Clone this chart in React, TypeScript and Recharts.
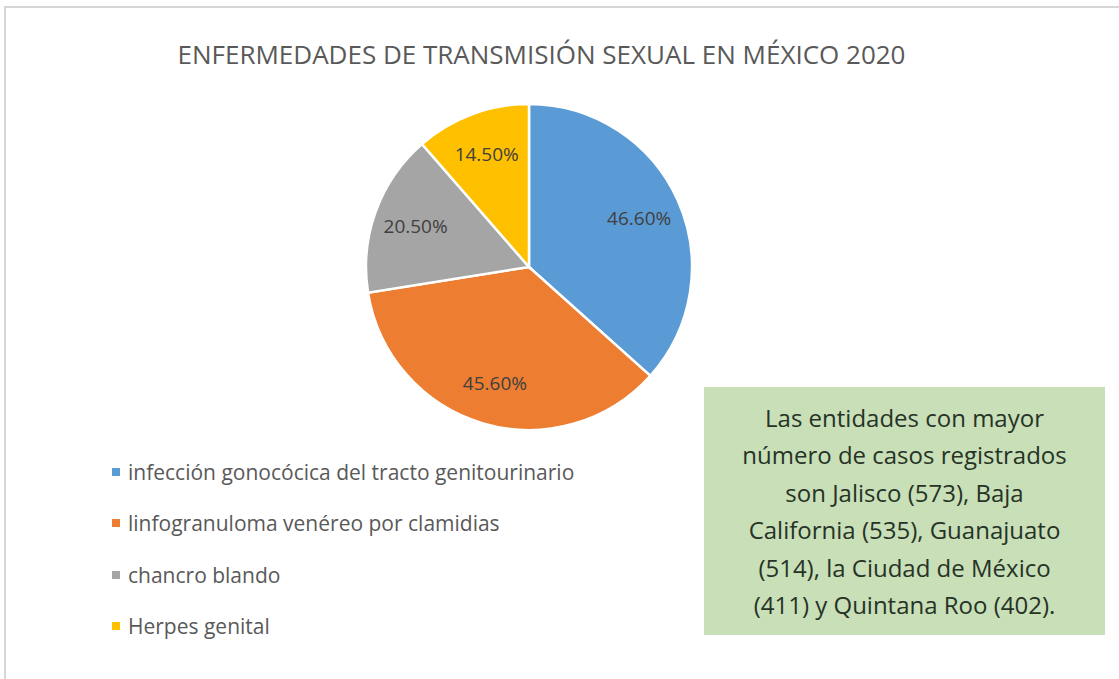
import { PieChart, Pie, Cell } from "recharts"

// ── data ──────────────────────────────────────────────────────────────────────

const categories = [
  "infección gonocócica del tracto genitourinario",
  "linfogranuloma venéreo por clamidias",
  "chancro blando",
  "Herpes genital",
]
const percents = [46.6, 45.6, 20.5, 14.5]
const colors = ["#5b9bd5", "#ed7d31", "#a5a5a5", "#ffc000"]

const title = "ENFERMEDADES DE TRANSMISIÓN SEXUAL EN MÉXICO 2020"
const noteLines = [
  "Las entidades con mayor",
  "número de casos registrados",
  "son Jalisco (573), Baja",
  "California (535), Guanajuato",
  "(514), la Ciudad de México",
  "(411) y Quintana Roo (402).",
]

const data = categories.map((name, i) => ({ name, value: percents[i] }))

const FONT = "'Open Sans', sans-serif"
const RAD = Math.PI / 180

// ── slice labels ──────────────────────────────────────────────────────────────

function renderLabel(p: any) {
  const r = p.outerRadius * 0.74
  const x = p.cx + r * Math.cos(-p.midAngle * RAD)
  const y = p.cy + r * Math.sin(-p.midAngle * RAD)
  return (
    <text
      x={x}
      y={y}
      textAnchor="middle"
      dominantBaseline="central"
      fill="#404040"
      fontFamily={FONT}
      fontSize={19}
    >
      {`${p.value.toFixed(2)}%`}
    </text>
  )
}

export default function App() {
  return (
    <div style={{ position: "absolute", left: 0, top: 0, width: 1119, height: 679, background: "#fff", overflow: "hidden" }}>
      <div
        style={{
          position: "absolute", left: 4, top: 6, width: 1130, height: 690,
          borderLeft: "2px solid #d6d6d6", borderTop: "2px solid #d6d6d6",
        }}
      />
      <div
        style={{
          position: "absolute", left: 0, top: 36, width: 1083, textAlign: "center",
          fontFamily: FONT, fontSize: 26, color: "#595959", whiteSpace: "nowrap",
        }}
      >
        {title}
      </div>
      <div style={{ position: "absolute", left: 0, top: 0 }}>
        <PieChart width={1119} height={679} margin={{ top: 0, right: 0, bottom: 0, left: 0 }}>
          <Pie
            data={data}
            dataKey="value"
            nameKey="name"
            cx={529}
            cy={267}
            outerRadius={163}
            startAngle={90}
            endAngle={-270}
            stroke="#fff"
            strokeWidth={2.5}
            label={renderLabel}
            labelLine={false}
            isAnimationActive={false}
          >
            {data.map((d, i) => (
              <Cell key={d.name} fill={colors[i]} />
            ))}
          </Pie>
        </PieChart>
      </div>

      {/* legend */}
      <div style={{ position: "absolute", left: 112, top: 446 }}>
        {categories.map((c, i) => (
          <div key={c} style={{ display: "flex", alignItems: "center", height: 51.5 }}>
            <span style={{ width: 8, height: 8, background: colors[i], marginRight: 8 }} />
            <span style={{ fontFamily: FONT, fontSize: 21, color: "#595959", whiteSpace: "nowrap" }}>{c}</span>
          </div>
        ))}
      </div>

      {/* note box */}
      <div
        style={{
          position: "absolute", left: 704, top: 387, width: 401, height: 248,
          background: "#c8dfb8", display: "flex", flexDirection: "column",
          justifyContent: "center", alignItems: "center",
          fontFamily: FONT, fontSize: 24, lineHeight: "37.5px", color: "#263326",
        }}
      >
        {noteLines.map(l => (
          <div key={l} style={{ whiteSpace: "nowrap" }}>{l}</div>
        ))}
      </div>
    </div>
  )
}
